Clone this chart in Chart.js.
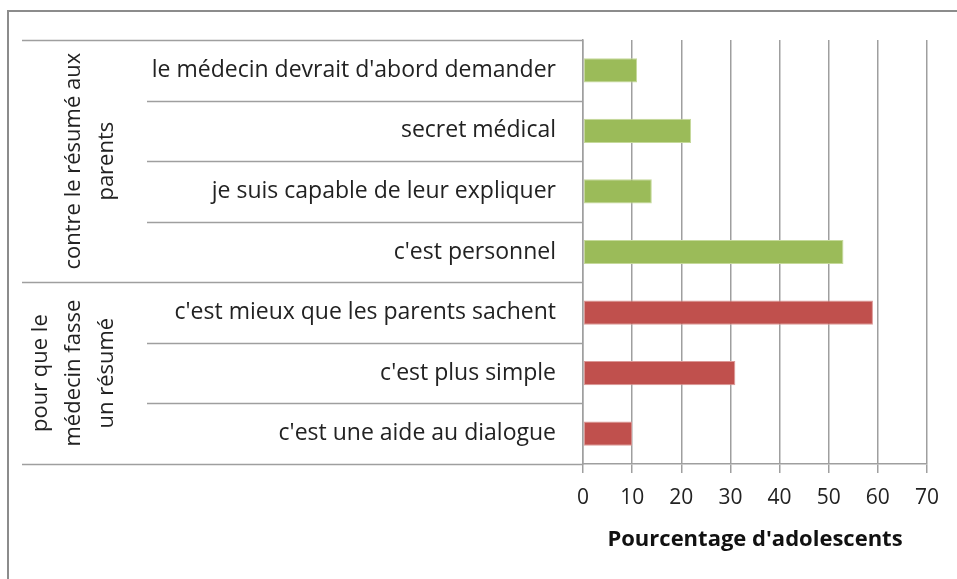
<!DOCTYPE html>
<html>
<head>
<meta charset="utf-8">
<script src="https://cdn.jsdelivr.net/npm/chart.js@4.4.1/dist/chart.umd.min.js"></script>
<style>
  html, body { margin: 0; padding: 0; background: #fff; }
</style>
</head>
<body>
<canvas id="adoChart" width="957" height="579"></canvas>
<script>
// categories, top to bottom
const categories = [
    "le médecin devrait d'abord demander",
    "secret médical",
    "je suis capable de leur expliquer",
    "c'est personnel",
    "c'est mieux que les parents sachent",
    "c'est plus simple",
    "c'est une aide au dialogue"
];
const values = [11, 22, 14, 53, 59, 31, 10];
const groupLabels = [
    ["contre le résumé aux", "parents"],
    ["pour que le", "médecin fasse", "un résumé"]
];
const groupSizes = [4, 3];
const groupColors = ['#9BBB59', '#C0504D'];
const groupBorders = ['#C5D99A', '#DC9896'];
const xTicks = [0, 10, 20, 30, 40, 50, 60, 70];

const FONT = "'Open Sans', 'DejaVu Sans', sans-serif";
const GRID = '#9f9f9f';

// one colour per bar, by group
let barColors = [];
let borderColors = [];
groupSizes.forEach(function (n, g) {
    for (let i = 0; i < n; i++) {
        barColors.push(groupColors[g]);
        borderColors.push(groupBorders[g]);
    }
});

// frame, category separators and rotated group labels
const groupAxisPlugin = {
    id: 'groupAxis',
    afterDraw(chart) {
        const ctx = chart.ctx;
        const y = chart.scales.y;
        const n = categories.length;
        const step = n > 1 ? y.getPixelForValue(1) - y.getPixelForValue(0) : 0;
        const axisX = y.right;
        const outerLeft = 22, innerLeft = 147;

        ctx.save();
        // outer frame (top and left only)
        ctx.strokeStyle = '#8c8c8c';
        ctx.lineWidth = 2;
        ctx.beginPath();
        ctx.moveTo(8, 579);
        ctx.lineTo(8, 11);
        ctx.lineTo(957, 11);
        ctx.stroke();

        // group boundaries
        let bounds = [0];
        groupSizes.forEach(function (s) { bounds.push(bounds[bounds.length - 1] + s); });

        ctx.strokeStyle = GRID;
        ctx.lineWidth = 1.5;
        for (let i = 0; i <= n; i++) {
            const py = Math.round(y.getPixelForValue(i) - step / 2) + 0.5;
            const left = bounds.indexOf(i) >= 0 ? outerLeft : innerLeft;
            ctx.beginPath();
            ctx.moveTo(left, py);
            ctx.lineTo(axisX, py);
            ctx.stroke();
        }

        // rotated group labels, last line kept next to the category labels
        ctx.fillStyle = '#222';
        ctx.font = '22px ' + FONT;
        ctx.textAlign = 'center';
        ctx.textBaseline = 'middle';
        const lineGap = 33;
        const lastLineX = 107;
        groupLabels.forEach(function (lines, g) {
            const top = y.getPixelForValue(bounds[g]) - step / 2;
            const bot = y.getPixelForValue(bounds[g + 1]) - step / 2;
            ctx.save();
            ctx.translate(lastLineX, (top + bot) / 2);
            ctx.rotate(-Math.PI / 2);
            lines.forEach(function (txt, k) {
                const off = (k - (lines.length - 1)) * lineGap;
                ctx.fillText(txt, 0, off);
            });
            ctx.restore();
        });
        ctx.restore();
    }
};

let ctx = document.getElementById('adoChart').getContext('2d');
let chart = new Chart(ctx, {
    type: 'bar',
    data: {
        labels: categories,
        datasets: [{
            data: values,
            backgroundColor: barColors,
            borderColor: borderColors,
            borderWidth: 1,
            borderSkipped: false,
            barPercentage: 0.4,
            categoryPercentage: 1
        }]
    },
    options: {
        indexAxis: 'y',
        responsive: false,
        animation: false,
        devicePixelRatio: 1,
        layout: { padding: { top: 40, right: 30, left: 0, bottom: 0 } },
        plugins: {
            legend: { display: false },
            tooltip: { enabled: false }
        },
        scales: {
            x: {
                min: 0,
                max: 70,
                afterBuildTicks: function (scale) {
                    scale.ticks = xTicks.map(function (v) { return { value: v }; });
                },
                afterFit: function (scale) { scale.height = 115; },
                grid: { color: GRID, lineWidth: 1.5, tickLength: 9 },
                border: { color: GRID, width: 1.5 },
                ticks: { color: '#222', font: { family: FONT, size: 21 }, padding: 12 },
                title: {
                    display: true,
                    text: "Pourcentage d'adolescents",
                    color: '#111',
                    font: { family: FONT, size: 22, weight: 'bold' },
                    padding: { top: 0, bottom: 26 }
                }
            },
            y: {
                afterFit: function (scale) { scale.width = 583; },
                grid: { display: false },
                border: { color: GRID, width: 1.5 },
                ticks: { color: '#222', font: { family: FONT, size: 23 }, padding: 19 }
            }
        }
    },
    plugins: [groupAxisPlugin]
});
</script>
</body>
</html>
